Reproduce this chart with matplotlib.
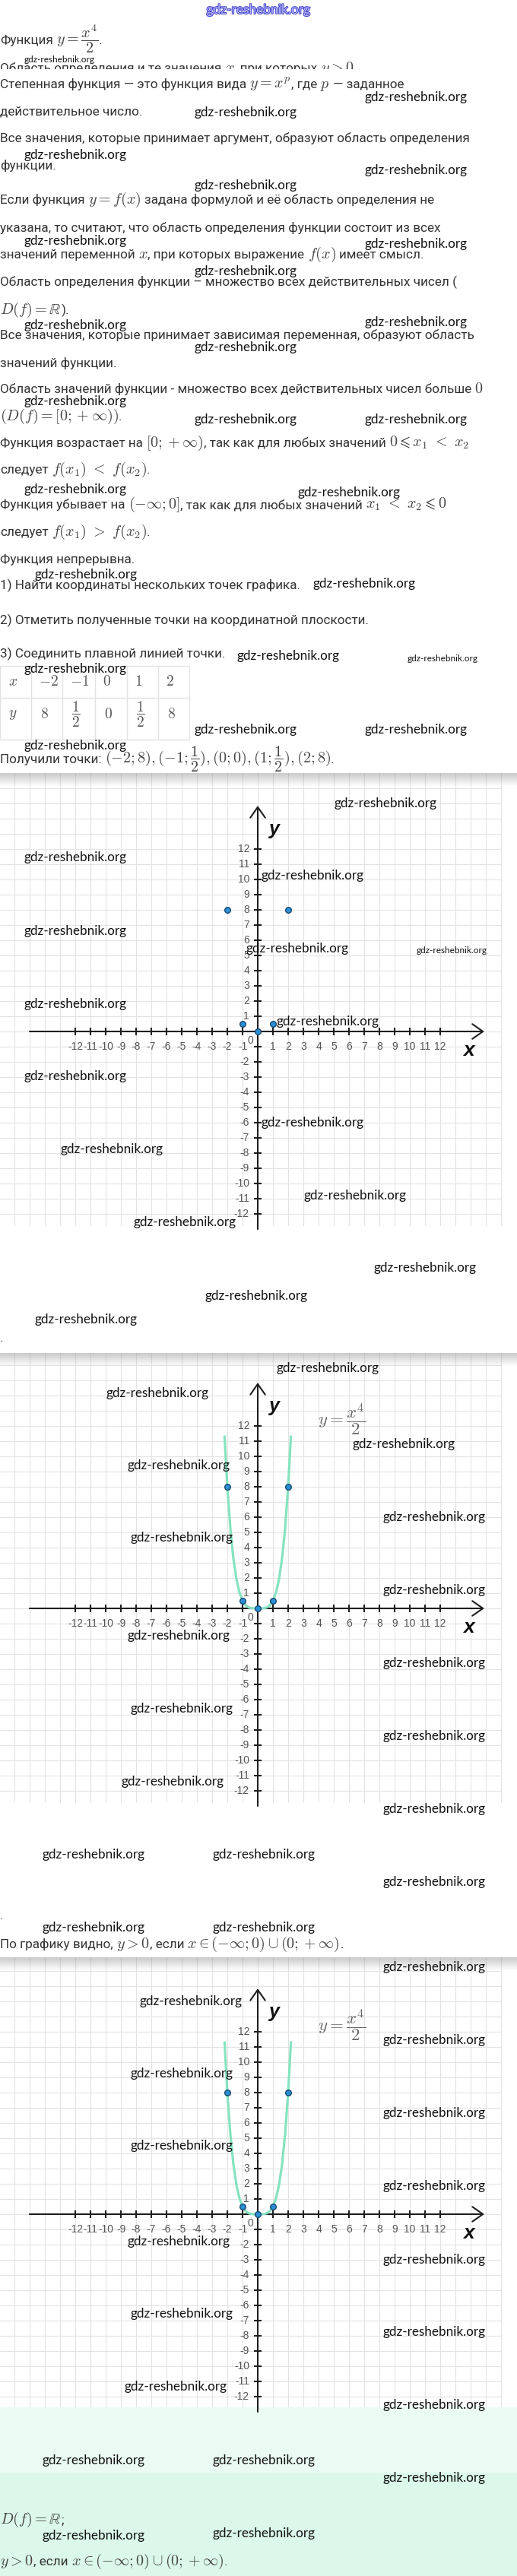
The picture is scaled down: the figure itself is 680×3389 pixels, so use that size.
import matplotlib
matplotlib.use("Agg")
import matplotlib.pyplot as plt
import matplotlib.patheffects as pe
import numpy as np

plt.rcParams['font.family'] = ['Roboto', 'DejaVu Sans']
plt.rcParams['mathtext.fontset'] = 'cm'

W, H = 680, 3389

# точки из таблицы
pts_x = [-2, -1, 0, 1, 2]
pts_y = [8, 0.5, 0, 0.5, 8]
tab_y = ['8', r'\dfrac{1}{2}', '0', r'\dfrac{1}{2}', '8']

# кривая y = x^4/2
curve_x = [-2.18, -2.0, -1.8, -1.6, -1.4, -1.2, -1.0, -0.8, -0.6, -0.4, -0.2, 0.0,
           0.2, 0.4, 0.6, 0.8, 1.0, 1.2, 1.4, 1.6, 1.8, 2.0, 2.18]
curve_y = [11.29, 8.0, 5.25, 3.28, 1.92, 1.04, 0.5, 0.2, 0.065, 0.013, 0.001, 0.0,
           0.001, 0.013, 0.065, 0.2, 0.5, 1.04, 1.92, 3.28, 5.25, 8.0, 11.29]

ticks = [-12, -11, -10, -9, -8, -7, -6, -5, -4, -3, -2, -1,
         1, 2, 3, 4, 5, 6, 7, 8, 9, 10, 11, 12]

lines = [
    (58, r"Функция $y = \dfrac{x^4}{2}$."),
    (95, r"Область определения и те значения $x$, при которых $y > 0$"),
    (116, r"Степенная функция — это функция вида $y = x^p$, где $p$ — заданное"),
    (152, "действительное число."),
    (187, "Все значения, которые принимает аргумент, образуют область определения"),
    (223, "функции."),
    (268, r"Если функция $y = f(x)$ задана формулой и её область определения не"),
    (305, "указана, то считают, что область определения функции состоит из всех"),
    (340, r"значений переменной $x$, при которых выражение $f(x)$ имеет смысл."),
    (376, "Область определения функции – множество всех действительных чисел ("),
    (413, r"$D(f) = \mathbb{R}$)."),
    (446, "Все значения, которые принимает зависимая переменная, образуют область"),
    (483, "значений функции."),
    (517, r"Область значений функции - множество всех действительных чисел больше $0$"),
    (553, r"$(D(f) = [0; +\infty))$."),
    (588, r"Функция возрастает на $[0; +\infty)$, так как для любых значений $0 \leqslant x_1\ <\ x_2$"),
    (623, r"следует $f(x_1)\ <\ f(x_2)$."),
    (669, r"Функция убывает на $(-\infty; 0]$, так как для любых значений $x_1\ <\ x_2 \leqslant 0$"),
    (705, r"следует $f(x_1)\ >\ f(x_2)$."),
    (741, "Функция непрерывна."),
    (775, "1) Найти координаты нескольких точек графика."),
    (821, "2) Отметить полученные точки на координатной плоскости."),
    (865, "3) Соединить плавной линией точки."),
    (1004, r"Получили точки: $(-2; 8), (-1; \dfrac{1}{2}), (0; 0), (1; \dfrac{1}{2}), (2; 8)$."),
    (1765, "."),
    (2525, "."),
    (2563, r"По графику видно, $y > 0$, если $x \in (-\infty; 0) \cup (0; +\infty)$."),
    (3320, r"$D(f) = \mathbb{R}$;"),
    (3375, r"$y > 0$, если $x \in (-\infty; 0) \cup (0; +\infty)$."),
]

# водяные знаки: x, y, маленький
marks = [
    (32, 79, True), (479, 128, False), (256, 148, False), (32, 204, False), (479, 224, False),
    (256, 244, False), (32, 317, False), (479, 321, False), (256, 357, False), (32, 428, False),
    (479, 424, False), (256, 457, False), (32, 528, False), (256, 552, False), (479, 552, False),
    (32, 644, False), (392, 648, False), (45, 756, False), (412, 768, False), (312, 863, False),
    (536, 867, True), (32, 880, False), (256, 960, False), (479, 960, False), (32, 981, False),
    (440, 1057, False), (32, 1128, False), (344, 1152, False), (32, 1225, False), (324, 1248, False),
    (548, 1251, True), (32, 1321, False), (364, 1344, False), (32, 1416, False), (344, 1477, False),
    (80, 1512, False), (400, 1573, False), (176, 1608, False), (492, 1668, False), (269, 1705, False),
    (45, 1736, False), (363, 1800, False), (140, 1833, False), (464, 1900, False), (168, 1928, False),
    (503, 1996, False), (172, 2023, False), (503, 2092, False), (168, 2152, False), (503, 2188, False),
    (172, 2248, False), (503, 2284, False), (160, 2344, False), (503, 2380, False), (56, 2440, False),
    (280, 2440, False), (503, 2476, False), (56, 2536, False), (280, 2536, False), (503, 2588, False),
    (184, 2633, False), (503, 2684, False), (172, 2728, False), (503, 2780, False), (172, 2823, False),
    (503, 2876, False), (168, 2949, False), (503, 2973, False), (172, 3044, False), (503, 3068, False),
    (163, 3140, False), (503, 3164, False), (56, 3237, False), (280, 3237, False), (503, 3260, False),
    (56, 3336, False), (280, 3333, False),
]

fig = plt.figure(figsize=(W / 100, H / 100), dpi=100)
fig.patch.set_facecolor('white')
renderer = fig.canvas.get_renderer()

back = fig.add_axes([0, 0, 1, 1], zorder=0)
back.set_xlim(0, W)
back.set_ylim(H, 0)
back.axis('off')

# мятный фон внизу
back.axhspan(3167, 3253, color='#eafbf3', lw=0)
back.axhspan(3253, H, color='#dbf8eb', lw=0)

TXT = '#333333'
FS = 12.3
SP = 4.2


def draw_line(yb, s):
    # текст и формулы разными кусками, формулы крупнее
    x = 0
    for i, p in enumerate(s.split('$')):
        if p == '':
            continue
        if i % 2:
            t = back.text(x, yb, '$' + p + '$', fontsize=FS * 1.18, color='#444',
                          va='baseline', zorder=2)
            x = t.get_window_extent(renderer).x1
        else:
            if p.startswith(' '):
                x += SP
            core = p.strip()
            if core:
                t = back.text(x, yb, core, fontsize=FS, color=TXT, va='baseline', zorder=2)
                x = t.get_window_extent(renderer).x1
            if p.endswith(' '):
                x += SP


for yb, s in lines:
    draw_line(yb, s)
# обрезанная строка
back.axhspan(90.5, 101, color='white', lw=0, zorder=3)

# таблица
cols = [0, 41, 82, 125, 167, 208, 249]
rows = [876, 918, 973]
back.hlines(rows, 0, 249, color='#e2e2e2', lw=1)
back.vlines(cols, 876, 973, color='#e2e2e2', lw=1)
back.text(11, 897, r'$x$', fontsize=14, color='#555', va='center')
back.text(11, 940, r'$y$', fontsize=14, color='#555', va='center')
for i in range(len(pts_x)):
    lbl = r'$-%d$' % -pts_x[i] if pts_x[i] < 0 else r'$%d$' % pts_x[i]
    back.text(cols[i + 1] + 10, 897, lbl, fontsize=14, color='#555', va='center')
    back.text(cols[i + 1] + 12, 940, r'$%s$' % tab_y[i], fontsize=14, color='#555', va='center')


def graph(top, zero, bottom, with_curve):
    ax = fig.add_axes([0, 1 - bottom / H, 660 / W, (bottom - top) / H], zorder=1)
    ax.set_facecolor('white')
    ax.set_xlim((0 - 339) / 20, (660 - 339) / 20)
    ax.set_ylim((zero - bottom) / 20, (zero - top) / 20)
    ax.set_xticks(np.arange(-16, 17))
    ax.set_yticks(np.arange(-12, 17))
    ax.tick_params(length=0, labelbottom=False, labelleft=False)
    ax.grid(True, color='#e3e3e3', lw=0.8)
    ax.set_axisbelow(True)
    for s in ax.spines.values():
        s.set_visible(False)
    arr = dict(arrowstyle='->,head_length=0.5,head_width=0.35', color='#1e1e1e', lw=1.5,
               mutation_scale=20, shrinkA=0, shrinkB=0)
    ax.annotate('', xy=(14.9, 0), xytext=(-15, 0), arrowprops=arr, annotation_clip=False)
    ax.annotate('', xy=(0, 14.85), xytext=(0, -13), arrowprops=arr, annotation_clip=False)
    ax.plot(ticks, [0] * len(ticks), ls='none', marker='|', ms=6.5, mew=1.5, color='#1e1e1e')
    ax.plot([0] * len(ticks), ticks, ls='none', marker='_', ms=6.5, mew=1.5, color='#1e1e1e')
    lab = dict(fontsize=10, color='#555', family=['Liberation Sans', 'DejaVu Sans'])
    for t in ticks:
        ax.text(t, -1.0, str(t), ha='center', va='center', **lab)
        if t != -1:
            ax.text(-0.55, t, str(t), ha='right', va='center', **lab)
    ax.text(-0.5, -0.6, '0', ha='center', va='center', **lab)
    ax.text(1.05, 13.3, 'y', fontsize=18, fontweight='bold', style='italic', color='#111',
            ha='center', va='center', family=['Liberation Sans', 'DejaVu Sans'])
    ax.text(13.85, -1.25, 'x', fontsize=19, fontweight='bold', style='italic', color='#111',
            ha='center', va='center', family=['Liberation Sans', 'DejaVu Sans'])
    if with_curve:
        ax.plot(curve_x, curve_y, color='#86e3c0', lw=2.3, zorder=3, clip_on=False)
        ax.text(5.55, 12.4, r'$y = \dfrac{x^4}{2}$', fontsize=16.5, color='#666',
                ha='center', va='center')
    ax.plot(pts_x, pts_y, ls='none', marker='o', ms=5.5, mfc='#2d8fd5', mec='#15496e',
            mew=1, zorder=4)
    return ax


graph(1017, 1357, 1613, False)
graph(1780, 2116, 2372, True)
graph(2575, 2913, 3167, True)

front = fig.add_axes([0, 0, 1, 1], zorder=2)
front.axis('off')
front.patch.set_alpha(0)

# тень сверху картинок
grad = np.zeros((20, 1, 4))
grad[:, 0, :3] = 0.55
grad[:, 0, 3] = np.linspace(0.45, 0.0, 20)
for top in [1017, 1780, 2575]:
    front.imshow(grad, extent=(0, W, top + 18, top), aspect='auto', zorder=1,
                 interpolation='bilinear')
front.set_xlim(0, W)
front.set_ylim(H, 0)

# синий знак сверху
front.text(340, 13, 'gdz-reshebnik.org', fontsize=12.5, family='Lato', color='#b8b8ff',
           ha='center', va='center',
           path_effects=[pe.withStroke(linewidth=1.3, foreground='#3535c8')])

for x, y, small in marks:
    if small:
        front.text(x, y, 'gdz-reshebnik.org', fontsize=8.5, color='#111', va='center',
                   family=['Liberation Sans Narrow', 'Lato'], zorder=5)
    else:
        front.text(x, y, 'gdz-reshebnik.org', fontsize=12.3, color='#111', va='center',
                   family='Lato', zorder=5)

fig.savefig('out.png', dpi=100)
